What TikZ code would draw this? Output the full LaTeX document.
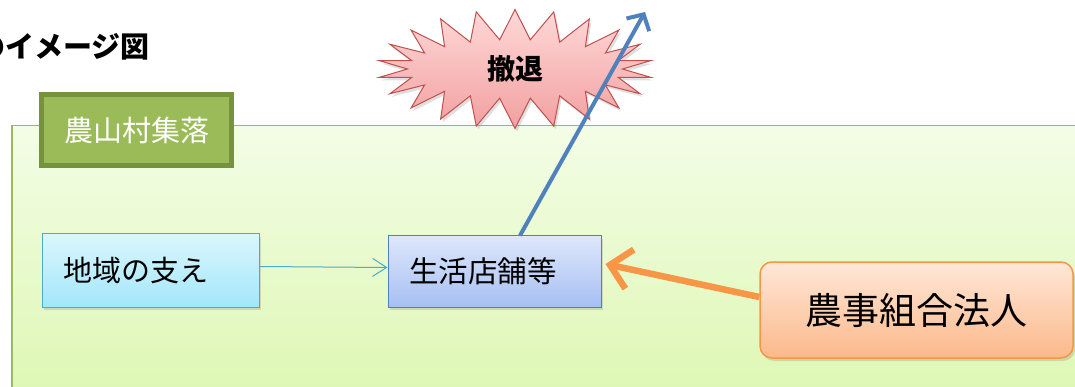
\documentclass[tikz,border=0pt]{standalone}
\usepackage{fontspec}
\setmainfont{Noto Sans CJK JP}
\usetikzlibrary{arrows.meta,shapes.symbols,shadows}
\definecolor{pgreen}{HTML}{9BBB59}
\definecolor{dgreen}{HTML}{76923C}
\definecolor{ptop}{HTML}{F3FDE6}
\definecolor{pbot}{HTML}{DDF7B2}
\definecolor{ctop}{HTML}{DAF7FD}
\definecolor{cbot}{HTML}{A3E6FB}
\definecolor{cbord}{HTML}{4BACC6}
\definecolor{btop}{HTML}{DEE7FB}
\definecolor{bbot}{HTML}{A6BFF3}
\definecolor{bbord}{HTML}{4F81BD}
\definecolor{otop}{HTML}{FFE7D8}
\definecolor{obot}{HTML}{FBB98A}
\definecolor{obord}{HTML}{F79646}
\definecolor{rtop}{HTML}{FFD8D8}
\definecolor{rbot}{HTML}{F2A0A0}
\definecolor{rbord}{HTML}{C0504D}
\begin{document}
\begin{tikzpicture}[x=1pt,y=-1pt,
  shadowed/.style={drop shadow={opacity=0.25,shadow xshift=2pt,shadow yshift=-3pt}},
  panel/.style={draw=pgreen,line width=1.5pt,top color=ptop,bottom color=pbot,anchor=north west,inner sep=0pt},
  villagelabel/.style={draw=dgreen,line width=5pt,fill=pgreen,text=white,minimum width=190pt,minimum height=71pt,inner sep=0pt,font=\fontsize{29}{29}\selectfont,shadowed},
  cyanbox/.style={draw=cbord,line width=1pt,top color=ctop,bottom color=cbot,text width=175pt,align=left,inner xsep=21pt,minimum height=73pt,font=\fontsize{29}{29}\selectfont,shadowed},
  bluebox/.style={draw=bbord,line width=1pt,top color=btop,bottom color=bbot,text width=171pt,align=left,inner xsep=21pt,minimum height=71pt,font=\fontsize{29.5}{29.5}\selectfont,shadowed},
  orangebox/.style={draw=obord,line width=1.5pt,rounded corners=12pt,top color=otop,bottom color=obot,minimum width=313pt,minimum height=96pt,font=\fontsize{37}{37}\selectfont,shadowed},
  burst/.style={starburst,starburst points=22,starburst point height=30pt,random starburst=0,draw=rbord,line width=1pt,top color=rtop,bottom color=rbot,minimum width=275pt,minimum height=119pt,inner sep=0pt,font=\bfseries\fontsize{28}{28}\selectfont,shadowed},
  thinarrow/.style={draw=cbord,line width=1pt,-{Straight Barb[length=14pt,width=18pt,line width=1pt]}},
  bluearrow/.style={draw=bbord,line width=4pt,-{Straight Barb[length=12pt,width=26pt,line width=4pt]}},
  orangearrow/.style={draw=obord,line width=6.5pt,-{Straight Barb[length=20pt,width=40pt,line width=6.5pt]}}
]
\useasboundingbox (0,0) rectangle (1075,387);
\node[anchor=west,inner sep=0pt,font=\bfseries\fontsize{29}{29}\selectfont] (title) at (-24,47) {のイメージ図};
\node[panel,minimum width=1090pt,minimum height=280pt] (panel) at (11,125) {};
\node[burst] (burst) at (515,69) {撤退};
\node[villagelabel] (village) at (136.5,130) {農山村集落};
\node[cyanbox] (chiiki) at (150.5,270.5) {地域の支え};
\node[bluebox] (seikatsu) at (494.5,271.5) {生活店舗等};
\node[orangebox] (noji) at (916.5,310) {農事組合法人};
\coordinate (tip) at (645,12);
\draw[thinarrow] ([yshift=4pt]chiiki.east) -- ([yshift=4pt]seikatsu.west);
\draw[bluearrow] ([xshift=25.5pt]seikatsu.north) -- (tip);
\draw[orangearrow] ([yshift=13pt]noji.west) -- ([shift={(4pt,7.5pt)}]seikatsu.east);
\end{tikzpicture}
\end{document}
